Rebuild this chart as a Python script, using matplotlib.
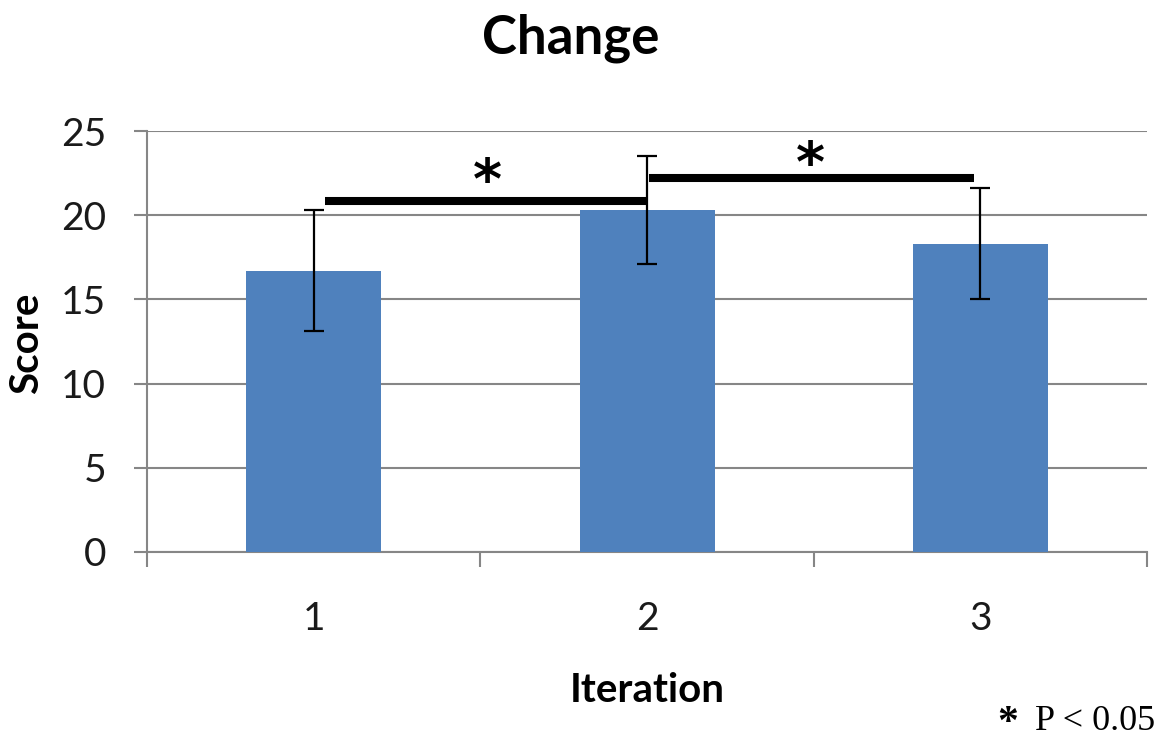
import matplotlib.pyplot as plt

# data
iterations = ['1', '2', '3']
scores = [16.7, 20.3, 18.3]
errors = [3.6, 3.2, 3.3]

# significance brackets: (from x, to x, height), star positions
sig_spans = [(0.035, 1.0, 20.86), (1.005, 1.98, 22.23)]
star_pos = [(0.52, 21.9), (1.49, 22.95)]

plt.rcParams['font.family'] = ['Lato', 'DejaVu Sans']

fig = plt.figure(figsize=(11.61, 7.43), dpi=100)
ax = fig.add_axes([147 / 1161, 1 - 552 / 743, 1000 / 1161, 421 / 743])

x = list(range(len(iterations)))
ax.bar(x, scores, width=0.405, color='#4F81BD', zorder=3,
       yerr=errors, capsize=7.5,
       error_kw=dict(ecolor='#000000', elinewidth=1.6, capthick=1.6, zorder=4))

# significance bars
for x0, x1, h in sig_spans:
    ax.plot([x0, x1], [h, h], color='black', linewidth=5.8,
            solid_capstyle='butt', zorder=5)
for sx, sy in star_pos:
    ax.text(sx, sy, '*', fontsize=40, fontweight='bold', ha='center',
            va='center', family='DejaVu Sans', zorder=6)

ax.set_xlim(-0.5, 2.5)
ax.set_ylim(0, 25)
ax.set_yticks([0, 5, 10, 15, 20, 25])
ax.yaxis.grid(True, color='#868686', linewidth=1.5, zorder=0)
ax.set_axisbelow(True)

ax.set_xticks(x)
ax.set_xticklabels(iterations)
ax.set_xticks([-0.5, 0.5, 1.5, 2.5], minor=True)
ax.tick_params(axis='x', which='major', length=0, pad=35, labelsize=28,
               labelcolor='#1a1a1a')
ax.tick_params(axis='x', which='minor', length=11, width=1.5, color='#868686',
               direction='out')
ax.tick_params(axis='y', length=9.5, width=1.5, color='#868686', pad=20,
               labelsize=28, labelcolor='#1a1a1a')

for side in ['top', 'right']:
    ax.spines[side].set_visible(False)
for side in ['left', 'bottom']:
    ax.spines[side].set_color('#868686')
    ax.spines[side].set_linewidth(1.5)

ax.set_ylabel('Score', fontsize=29, fontweight='bold')
ax.yaxis.set_label_coords(-0.102, 0.496)
ax.set_xlabel('Iteration', fontsize=29, fontweight='bold')
ax.xaxis.set_label_coords(0.5, -0.285)

fig.text(571 / 1161, 1 - 38 / 743, 'Change', fontsize=38, fontweight='bold',
         ha='center', va='center')
fig.text(1008 / 1161, 1 - 724 / 743, '*', fontsize=30, fontweight='bold',
         family='Liberation Serif', ha='center', va='center')
fig.text(1155 / 1161, 1 - 730 / 743, 'P < 0.05', fontsize=26,
         family='Liberation Serif', ha='right', va='baseline')

fig.savefig('out.png', dpi=100)
